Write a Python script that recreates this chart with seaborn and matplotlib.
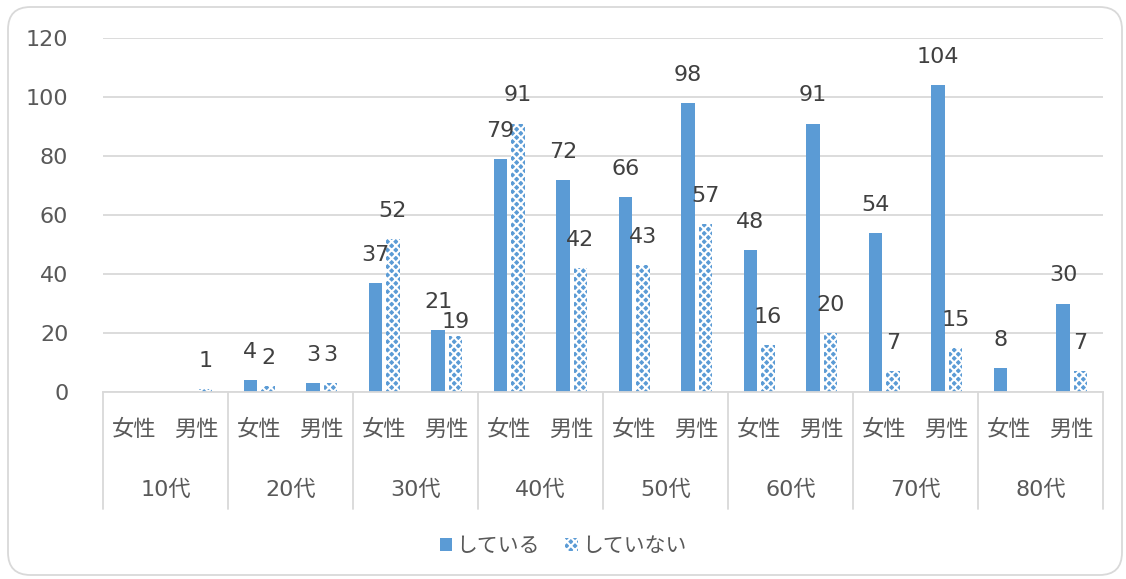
import numpy as np
import pandas as pd
import matplotlib
matplotlib.use('Agg')
import matplotlib.pyplot as plt
import matplotlib.patches as mpatches
import matplotlib.transforms as mtransforms
import seaborn as sns

# データ
ages = ['10代', '20代', '30代', '40代', '50代', '60代', '70代', '80代']
sexes = ['女性', '男性']
series = ['している', 'していない']
doing = [np.nan, np.nan, 4, 3, 37, 21, 79, 72, 66, 98, 48, 91, 54, 104, 8, 30]
not_doing = [np.nan, 1, 2, 3, 52, 19, 91, 42, 43, 57, 16, 20, 7, 15, np.nan, 7]
yticks = [0, 20, 40, 60, 80, 100, 120]

keys = [a + s for a in ages for s in sexes]
df = pd.DataFrame({'key': keys * 2,
                   'val': doing + not_doing,
                   'series': [series[0]] * len(keys) + [series[1]] * len(keys)})
df = df.dropna()

sns.set_style('white')
plt.rcParams['font.family'] = ['DejaVu Sans', 'Noto Sans CJK JP']
plt.rcParams['hatch.linewidth'] = 1.5
txt = '#595959'
blue = '#5B9BD5'
grid = '#D9D9D9'

fig = plt.figure(figsize=(11.26, 5.79), dpi=100)
W, H = 1126, 579
ax = fig.add_axes([103 / W, 1 - 392 / H, 1000 / W, 354 / H])

sns.barplot(data=df, x='key', y='val', hue='series', order=keys, hue_order=series,
            palette=[blue, blue], width=0.56, gap=0.23, errorbar=None, ax=ax,
            legend=False, saturation=1)

for bar in ax.containers[1]:
    bar.set_hatch('xxxx')
    bar.set_edgecolor('white')
    bar.set_linewidth(0)
for bar in ax.containers[0]:
    bar.set_linewidth(0)

for n, c in enumerate(ax.containers):
    labels = ax.bar_label(c, fmt='%g', padding=13, fontsize=16, color='#404040')
    if n == 1:
        # 30代男性の「19」は元の図でも棒に近い位置
        for t in labels:
            if t.get_text() == '19':
                t.xyann = (0, 3)

ax.set_xlim(-0.5, len(keys) - 0.5)
ax.set_ylim(0, 120)
ax.set_yticks(yticks)
ax.tick_params(axis='y', length=0, labelsize=16, labelcolor=txt, pad=25)
ax.set_xticks([])
ax.set_xlabel('')
ax.set_ylabel('')
ax.grid(axis='y', color=grid, linewidth=1.3)
ax.set_axisbelow(True)
for s in ['top', 'right', 'left']:
    ax.spines[s].set_visible(False)
ax.spines['bottom'].set_color(grid)
ax.spines['bottom'].set_linewidth(1.3)

# 二段のカテゴリ軸
trans = mtransforms.blended_transform_factory(ax.transData, ax.transAxes)
for i, k in enumerate(keys):
    ax.text(i, -0.107, sexes[i % 2], transform=trans, ha='center', va='center',
            fontsize=16, color=txt)
for j, a in enumerate(ages):
    ax.text(2 * j + 0.5, -0.277, a, transform=trans, ha='center', va='center',
            fontsize=16, color=txt)
for j in range(len(ages) + 1):
    x = 2 * j - 0.5
    ax.plot([x, x], [0, -0.33], transform=trans, color=grid, linewidth=1.3,
            clip_on=False)

# 凡例
h1 = mpatches.Patch(facecolor=blue, linewidth=0, label=series[0])
h2 = mpatches.Patch(facecolor=blue, edgecolor='white', hatch='xxxx', linewidth=0,
                    label=series[1])
fig.legend(handles=[h1, h2], loc='center', bbox_to_anchor=(0.5, 1 - 546 / H),
           ncol=2, frameon=False, fontsize=15, handlelength=0.6, handleheight=0.6,
           handletextpad=0.2, columnspacing=1.2, labelcolor=txt)

# 外枠
border = mpatches.FancyBboxPatch((8 / W, 4 / H), 1114 / W, 568 / H,
                                 boxstyle='round,pad=0,rounding_size=0.02',
                                 transform=fig.transFigure, facecolor='none',
                                 edgecolor=grid, linewidth=1.3, mutation_aspect=W / H)
fig.patches.append(border)

fig.savefig('out.png', dpi=100)
